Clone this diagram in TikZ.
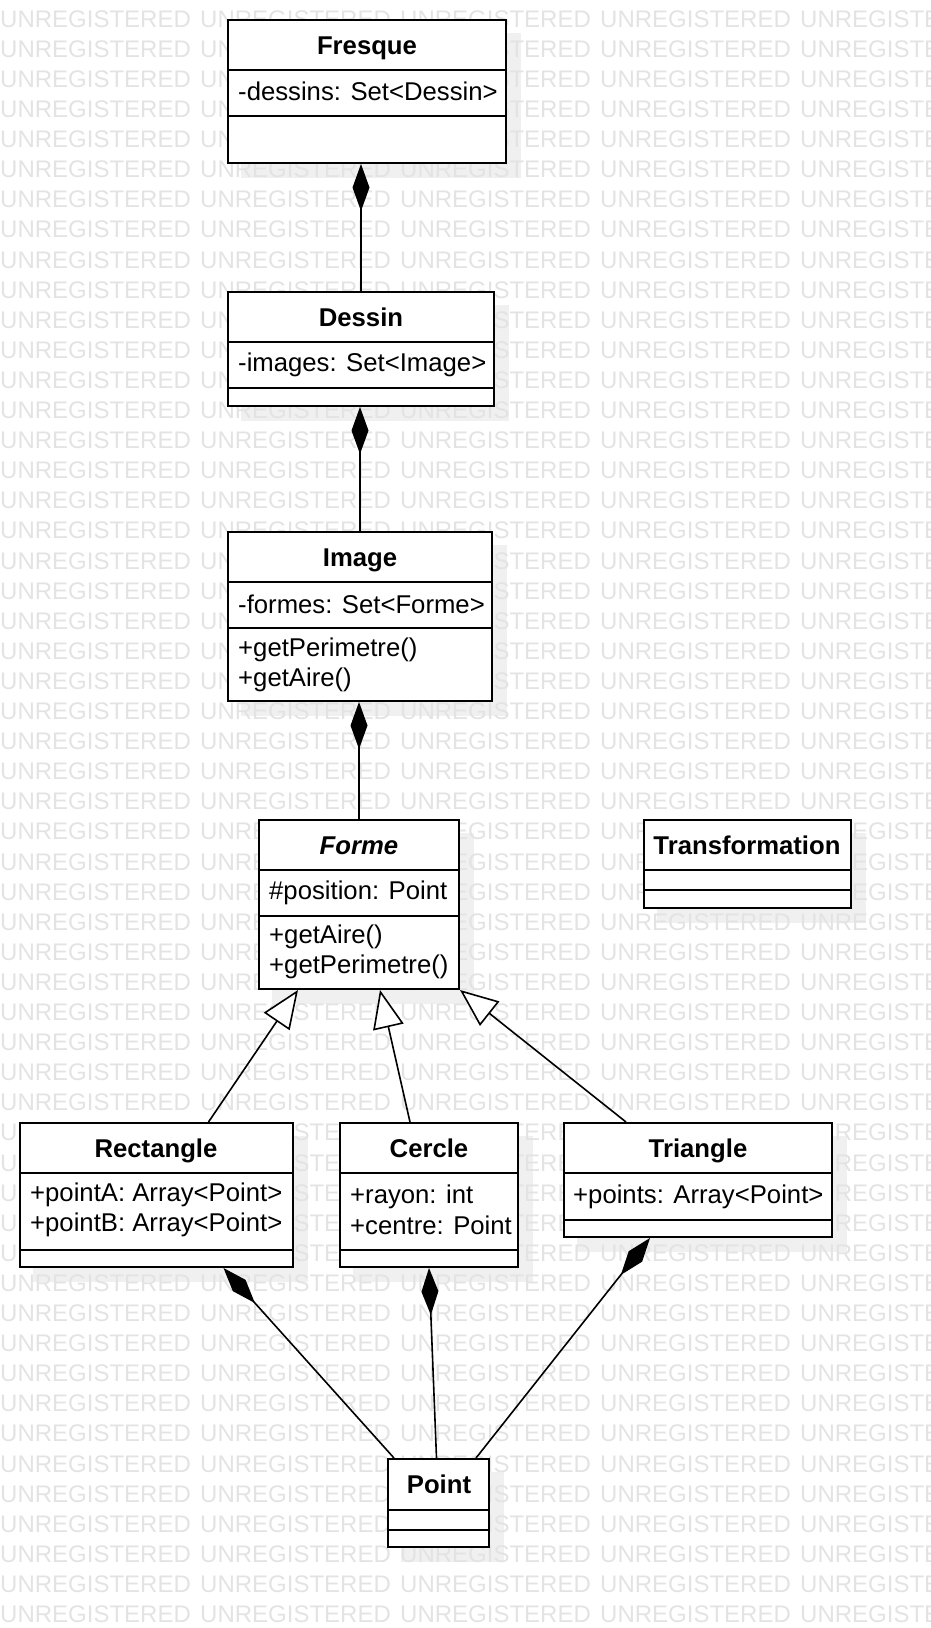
\documentclass[tikz,border=0pt]{standalone}
\usepackage{fontspec}
\setmainfont{Liberation Sans}
\usetikzlibrary{arrows.meta,fit,backgrounds}

\begin{document}
\begin{tikzpicture}[x=1pt, y=-1pt,
  cls/.style={draw, fill=white, line width=2pt, inner sep=0pt},
  div/.style={line width=2pt},
  cname/.style={font=\fontsize{25.7}{30.5}\selectfont\bfseries, anchor=base, inner sep=0pt},
  member/.style={font=\fontsize{25.7}{30.5}\selectfont, anchor=west, align=left, inner sep=0pt},
  comp/.style={line width=1.6pt, -{Diamond[length=47pt,width=17pt]}},
  gen/.style={line width=1.6pt, -{Triangle[length=38pt,width=31pt,fill=white]}},
  wm/.style={font=\fontsize{24}{25}\selectfont, text=black!11, anchor=west, inner sep=0pt},
  shadowfill/.style={fill=black!6}
]
\useasboundingbox (0,0) rectangle (930,1628);

% classes
\node[cls, fit={(228,20) (506,163)}] (fresque) {};
\draw[div] (fresque.west |- 0,70) -- (fresque.east |- 0,70);
\draw[div] (fresque.west |- 0,116) -- (fresque.east |- 0,116);
\node[cname] (fresque-n) at (367,54) {Fresque};
\node[member] (fresque-a) at (238,91) {-dessins: Set<Dessin>};

\node[cls, fit={(228,292) (494,406)}] (dessin) {};
\draw[div] (dessin.west |- 0,342) -- (dessin.east |- 0,342);
\draw[div] (dessin.west |- 0,388) -- (dessin.east |- 0,388);
\node[cname] (dessin-n) at (361,326) {Dessin};
\node[member] (dessin-a) at (238,365) {-images: Set<Image>};

\node[cls, fit={(228,532) (492,701)}] (image) {};
\draw[div] (image.west |- 0,582) -- (image.east |- 0,582);
\draw[div] (image.west |- 0,628) -- (image.east |- 0,628);
\node[cname] (image-n) at (360,566) {Image};
\node[member] (image-a) at (238,604) {-formes: Set<Forme>};
\node[member] (image-o) at (238,665) {+getPerimetre()\\+getAire()};

\node[cls, fit={(259,820) (459,989)}] (forme) {};
\draw[div] (forme.west |- 0,870) -- (forme.east |- 0,870);
\draw[div] (forme.west |- 0,916) -- (forme.east |- 0,916);
\node[cname] (forme-n) at (359,854) {\itshape Forme};
\node[member] (forme-a) at (269,893) {\#position: Point};
\node[member] (forme-o) at (269,952) {+getAire()\\+getPerimetre()};

\node[cls, fit={(644,820) (851,908)}] (transfo) {};
\draw[div] (transfo.west |- 0,870) -- (transfo.east |- 0,870);
\draw[div] (transfo.west |- 0,890) -- (transfo.east |- 0,890);
\node[cname] (transfo-n) at (747,854) {Transformation};

\node[cls, fit={(20,1123) (293,1267)}] (rect) {};
\draw[div] (rect.west |- 0,1173) -- (rect.east |- 0,1173);
\draw[div] (rect.west |- 0,1250) -- (rect.east |- 0,1250);
\node[cname] (rect-n) at (156,1157) {Rectangle};
\node[member] (rect-a) at (30,1210) {+pointA: Array<Point>\\+pointB: Array<Point>};

\node[cls, fit={(340,1123) (518,1267)}] (cercle) {};
\draw[div] (cercle.west |- 0,1173) -- (cercle.east |- 0,1173);
\draw[div] (cercle.west |- 0,1250) -- (cercle.east |- 0,1250);
\node[cname] (cercle-n) at (429,1157) {Cercle};
\node[member] (cercle-a) at (350,1210) {+rayon: int\\+centre: Point};

\node[cls, fit={(564,1123) (832,1237)}] (triangle) {};
\draw[div] (triangle.west |- 0,1173) -- (triangle.east |- 0,1173);
\draw[div] (triangle.west |- 0,1220) -- (triangle.east |- 0,1220);
\node[cname] (triangle-n) at (698,1157) {Triangle};
\node[member] (triangle-a) at (573,1197) {+points: Array<Point>};

\node[cls, fit={(388,1459) (489,1547)}] (point) {};
\draw[div] (point.west |- 0,1510) -- (point.east |- 0,1510);
\draw[div] (point.west |- 0,1530) -- (point.east |- 0,1530);
\node[cname] (point-n) at (439,1493) {Point};

% composition
\draw[comp] (dessin.north) -- (dessin.north |- fresque.south);
\draw[comp] (image.north) -- (image.north |- dessin.south);
\draw[comp] (forme.north) -- (forme.north |- image.south);
\draw[comp] ([xshift=7pt]point.north west) -- ([xshift=67pt]rect.south);
\draw[comp] ([xshift=-2pt]point.north) -- (cercle.south);
\draw[comp] ([xshift=-14pt]point.north east) -- ([xshift=-48pt]triangle.south);

% generalisation
\draw[gen] ([xshift=52pt]rect.north) -- ([xshift=-61pt]forme.south);
\draw[gen] ([xshift=-19pt]cercle.north) -- ([xshift=21pt]forme.south);
\draw[gen] ([xshift=-72pt]triangle.north) -- (forme.south east);

% shadows and watermark
\begin{scope}[on background layer]
  \clip (0,0) rectangle (930,1628);
  \foreach \n in {fresque,dessin,image,forme,transfo,rect,cercle,triangle,point}
    \fill[shadowfill] ([shift={(14,14)}]\n.south west) rectangle ([shift={(14,14)}]\n.north east);
  \foreach \r in {-1,...,53}
    \foreach \c in {0,...,4}
      \node[wm] (wm-\r-\c) at (200*\c, 19+30.1*\r) {UNREGISTERED};
\end{scope}
\end{tikzpicture}
\end{document}
